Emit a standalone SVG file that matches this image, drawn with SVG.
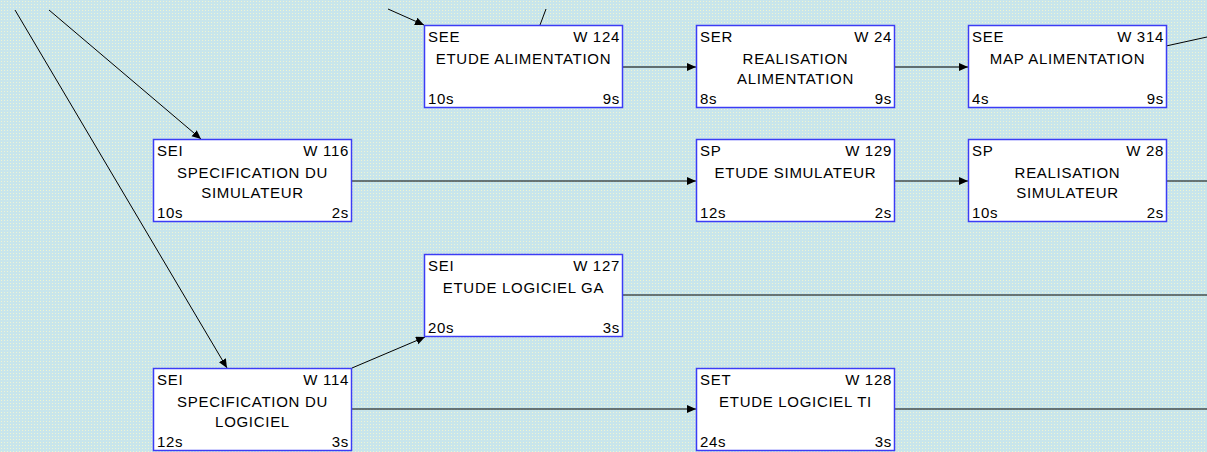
<svg xmlns="http://www.w3.org/2000/svg" width="1207" height="452" viewBox="0 0 1207 452">
<style>
.box{fill:#ffffff;stroke:#3c3cf5;stroke-width:1.5}
.t{font-family:"Liberation Sans",Arial,sans-serif;font-size:15px;fill:#000;letter-spacing:0.7px}
.r{text-anchor:end}
.c{text-anchor:middle}
.ln{stroke:#000;stroke-width:1;fill:none}
.lg{stroke:#3a4448;stroke-width:1.6;fill:none}
</style>
<defs>
<pattern id="bg" width="3" height="3" patternUnits="userSpaceOnUse">
<rect width="3" height="3" fill="#c8e5eb"/>
<rect x="1" y="1" width="1" height="1" fill="#eef4d4"/>
</pattern>
<marker id="ar" markerWidth="10" markerHeight="9" refX="9" refY="4" orient="auto" markerUnits="userSpaceOnUse">
<path d="M0,0 L9,4 L0,8 z" fill="#000"/>
</marker>
</defs>
<rect width="1207" height="452" fill="url(#bg)"/>
<g id="connectors">
<line class="ln" x1="15" y1="10" x2="227" y2="368" marker-end="url(#ar)"/>
<line class="ln" x1="49" y1="10" x2="201" y2="139" marker-end="url(#ar)"/>
<line class="ln" x1="388" y1="9" x2="424" y2="25" marker-end="url(#ar)"/>
<line class="ln" x1="540" y1="25" x2="546" y2="9"/>
<line class="lg" x1="623" y1="67" x2="696" y2="67" marker-end="url(#ar)"/>
<line class="lg" x1="895" y1="67" x2="968" y2="67" marker-end="url(#ar)"/>
<line class="ln" x1="1166" y1="46" x2="1207" y2="37"/>
<line class="ln" x1="352" y1="181" x2="696" y2="181" marker-end="url(#ar)"/>
<line class="ln" x1="895" y1="181" x2="968" y2="181" marker-end="url(#ar)"/>
<line class="ln" x1="1166" y1="181" x2="1207" y2="181"/>
<line class="ln" x1="623" y1="295" x2="1207" y2="295"/>
<line class="ln" x1="352" y1="368" x2="425" y2="337" marker-end="url(#ar)"/>
<line class="ln" x1="352" y1="409" x2="696" y2="409" marker-end="url(#ar)"/>
<line class="ln" x1="895" y1="409" x2="1207" y2="409"/>
</g>
<g id="W124" transform="translate(424,25)">
<rect class="box" x="0.5" y="0.5" width="198" height="82"/>
<text class="t" x="4" y="17">SEE</text><text class="t r" x="196" y="17">W 124</text>
<text class="t c" x="99.5" y="38.5">ETUDE ALIMENTATION</text>
<text class="t" x="4" y="78.5">10s</text><text class="t r" x="196" y="78.5">9s</text>
</g>
<g id="W24" transform="translate(696,25)">
<rect class="box" x="0.5" y="0.5" width="198" height="82"/>
<text class="t" x="4" y="17">SER</text><text class="t r" x="196" y="17">W 24</text>
<text class="t c" x="99.5" y="38.5">REALISATION</text>
<text class="t c" x="99.5" y="59">ALIMENTATION</text>
<text class="t" x="4" y="78.5">8s</text><text class="t r" x="196" y="78.5">9s</text>
</g>
<g id="W314" transform="translate(968,25)">
<rect class="box" x="0.5" y="0.5" width="198" height="82"/>
<text class="t" x="4" y="17">SEE</text><text class="t r" x="196" y="17">W 314</text>
<text class="t c" x="99.5" y="38.5">MAP ALIMENTATION</text>
<text class="t" x="4" y="78.5">4s</text><text class="t r" x="196" y="78.5">9s</text>
</g>
<g id="W116" transform="translate(153,139)">
<rect class="box" x="0.5" y="0.5" width="198" height="82"/>
<text class="t" x="4" y="17">SEI</text><text class="t r" x="196" y="17">W 116</text>
<text class="t c" x="99.5" y="38.5">SPECIFICATION DU</text>
<text class="t c" x="99.5" y="59">SIMULATEUR</text>
<text class="t" x="4" y="78.5">10s</text><text class="t r" x="196" y="78.5">2s</text>
</g>
<g id="W129" transform="translate(696,139)">
<rect class="box" x="0.5" y="0.5" width="198" height="82"/>
<text class="t" x="4" y="17">SP</text><text class="t r" x="196" y="17">W 129</text>
<text class="t c" x="99.5" y="38.5">ETUDE SIMULATEUR</text>
<text class="t" x="4" y="78.5">12s</text><text class="t r" x="196" y="78.5">2s</text>
</g>
<g id="W28" transform="translate(968,139)">
<rect class="box" x="0.5" y="0.5" width="198" height="82"/>
<text class="t" x="4" y="17">SP</text><text class="t r" x="196" y="17">W 28</text>
<text class="t c" x="99.5" y="38.5">REALISATION</text>
<text class="t c" x="99.5" y="59">SIMULATEUR</text>
<text class="t" x="4" y="78.5">10s</text><text class="t r" x="196" y="78.5">2s</text>
</g>
<g id="W127" transform="translate(424,254)">
<rect class="box" x="0.5" y="0.5" width="198" height="82"/>
<text class="t" x="4" y="17">SEI</text><text class="t r" x="196" y="17">W 127</text>
<text class="t c" x="99.5" y="38.5">ETUDE LOGICIEL GA</text>
<text class="t" x="4" y="78.5">20s</text><text class="t r" x="196" y="78.5">3s</text>
</g>
<g id="W114" transform="translate(153,368)">
<rect class="box" x="0.5" y="0.5" width="198" height="82"/>
<text class="t" x="4" y="17">SEI</text><text class="t r" x="196" y="17">W 114</text>
<text class="t c" x="99.5" y="38.5">SPECIFICATION DU</text>
<text class="t c" x="99.5" y="59">LOGICIEL</text>
<text class="t" x="4" y="78.5">12s</text><text class="t r" x="196" y="78.5">3s</text>
</g>
<g id="W128" transform="translate(696,368)">
<rect class="box" x="0.5" y="0.5" width="198" height="82"/>
<text class="t" x="4" y="17">SET</text><text class="t r" x="196" y="17">W 128</text>
<text class="t c" x="99.5" y="38.5">ETUDE LOGICIEL TI</text>
<text class="t" x="4" y="78.5">24s</text><text class="t r" x="196" y="78.5">3s</text>
</g>
</svg>
